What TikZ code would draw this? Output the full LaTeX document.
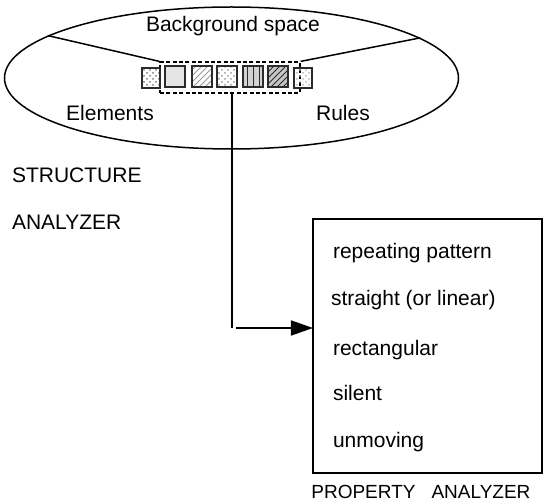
\documentclass[tikz,border=0pt]{standalone}
\usepackage{fontspec}
\setmainfont{Liberation Sans}
\usepackage{tikz}
\usetikzlibrary{arrows.meta,shapes.geometric,patterns}
\definecolor{tiledark}{HTML}{2B2B2B}
\definecolor{tilegray}{HTML}{9A9A9A}
\tikzset{
  tile/.style={draw=tiledark,line width=1pt,minimum width=10pt,minimum height=10.5pt,inner sep=0pt},
  edgetile/.style={tile,minimum width=9pt,minimum height=10pt},
  prop/.style={anchor=west}
}

\begin{document}
\begin{tikzpicture}[x=0.5pt,y=-0.5pt,font=\fontsize{10.5}{12.6}\selectfont,>=Stealth]
  \useasboundingbox (0,0) rectangle (543,502);
  % background space (ellipse) with its three regions
  \node[ellipse,draw,line width=0.75pt,minimum width=227pt,minimum height=71pt,inner sep=0pt] (bg) at (231.5,78) {};
  \node (bgtext) at (233,26) {Background space};
  \node (elem) at (110,113) {Elements};
  \node (rules) at (343,113) {Rules};
  % dashed row holding the tiles
  \node[draw,dashed,dash pattern=on 2pt off 1.2pt,line width=0.6pt,minimum width=70pt,minimum height=15.5pt,inner sep=0pt] (row) at (230,77.5) {};
  \draw[line width=0.75pt] (bg.167.6) -- (row.north west);
  \draw[line width=0.75pt] (bg.12.3) -- (row.north east);
  % the tiles
  \node[edgetile,pattern=crosshatch dots,pattern color=tilegray!80!black] (t1) at (151,78) {};
  \node[tile,fill=gray!20] (t2) at (175,77) {};
  \node[tile,pattern=north east lines,pattern color=tilegray] (t3) at (202,77) {};
  \node[tile,pattern=crosshatch dots,pattern color=tilegray] (t4) at (227,77) {};
  \node[tile,preaction={fill=gray!35},pattern=vertical lines,pattern color=tiledark] (t5) at (253.5,77) {};
  \node[tile,preaction={fill=gray!45},pattern=north east lines,pattern color=tiledark] (t6) at (278,77) {};
  \node[edgetile,pattern=crosshatch dots,pattern color=tilegray!70] (t7) at (303,78) {};
  % structure analyzer label
  \node[anchor=west] (sa1) at (5,175) {STRUCTURE};
  \node[anchor=west] (sa2) at (5,222) {ANALYZER};
  % property analyzer
  \draw[line width=1pt] (313,219) rectangle (542,473);
  \coordinate (boxw) at (313,328);
  \coordinate (bend) at (232,328);
  \node[prop] (p1) at (326,253) {repeating pattern};
  \node[prop] (p2) at (324,300) {straight (or linear)};
  \node[prop] (p3) at (326,350) {rectangular};
  \node[prop] (p4) at (326,393) {silent};
  \node[prop] (p5) at (326,442) {unmoving};
  \node[anchor=west,inner sep=0pt,font=\fontsize{9.5}{11}\selectfont] (pa) at (311,492) {PROPERTY\hspace{8pt}ANALYZER};
  % connector from the tiles to the property box
  \draw[line width=0.75pt] (row.south -| bend) -- (bend);
  \draw[line width=0.75pt,-{Triangle[length=11pt,width=7.5pt]}] ([xshift=2pt]bend) -- (boxw);
\end{tikzpicture}
\end{document}
